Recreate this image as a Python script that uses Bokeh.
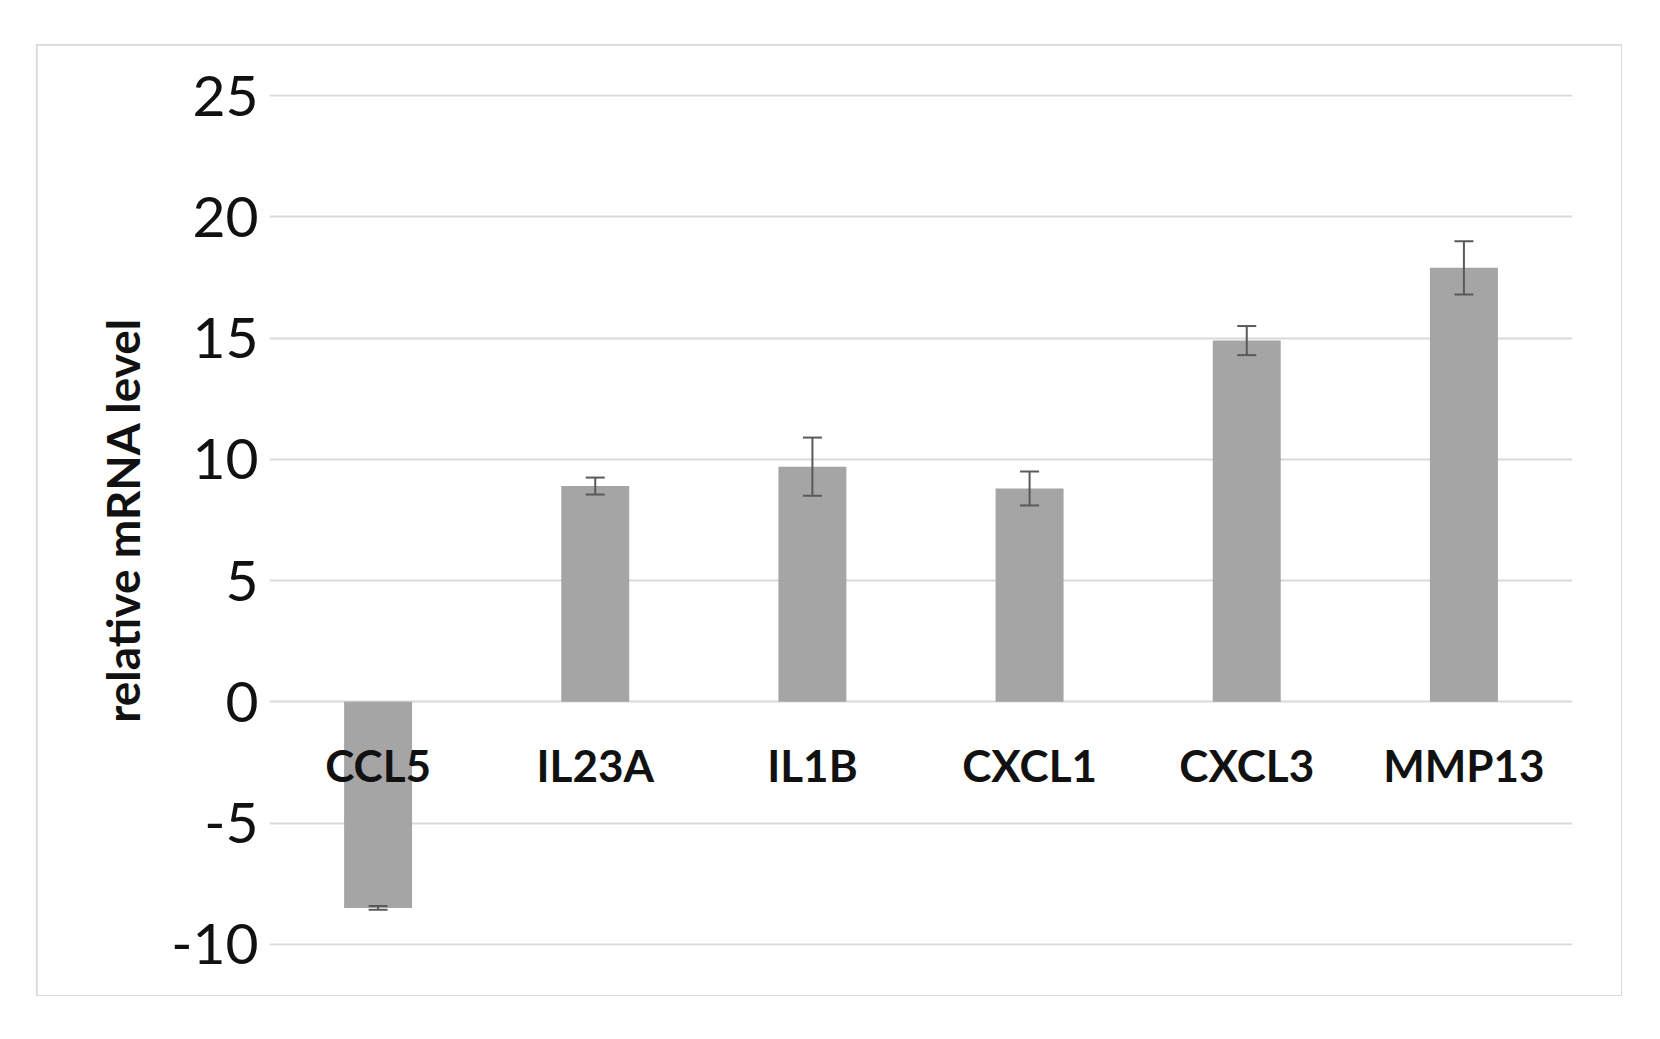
from bokeh.plotting import figure
from bokeh.models import ColumnDataSource, FactorRange, Range1d, Whisker, TeeHead, FixedTicker
from bokeh.core.properties import value
from bokeh.embed import file_html
from bokeh.resources import INLINE

# ---- data ----
genes = ["CCL5", "IL23A", "IL1B", "CXCL1", "CXCL3", "MMP13"]
levels = [-8.5, 8.9, 9.7, 8.8, 14.9, 17.9]
errors = [0.08, 0.35, 1.2, 0.7, 0.6, 1.1]
y_ticks = [-10, -5, 0, 5, 10, 15, 20, 25]
y_tick_labels = ["-10", "-5", "0", "5", "10", "15", "20", "25"]
y_title = "relative mRNA level"

src = ColumnDataSource(dict(
    gene=genes,
    level=levels,
    upper=[v + e for v, e in zip(levels, errors)],
    lower=[v - e for v, e in zip(levels, errors)],
    base0=[0] * len(genes),
))

p = figure(
    x_range=FactorRange(*genes, range_padding=0),
    y_range=Range1d(min(y_ticks) - 0.05, max(y_ticks) + 0.05),
    width=1584, height=950,
    output_backend="svg", toolbar_location=None,
    min_border_left=232, min_border_right=49,
    min_border_top=49, min_border_bottom=50,
)
p.margin = (45, 0, 0, 37)
p.styles = {"outline": "2px solid #D9D9D9", "outline-offset": "-1px"}
p.outline_line_color = None
p.background_fill_color = "white"
p.border_fill_color = "white"

p.vbar(x="gene", top="level", bottom=0, width=0.313, source=src,
       fill_color="#A5A5A5", line_color=None)

w = Whisker(source=src, base="gene", upper="upper", lower="lower",
            line_color="#595959", line_width=2,
            upper_head=TeeHead(size=19, line_color="#595959", line_width=2),
            lower_head=TeeHead(size=19, line_color="#595959", line_width=2))
w.level = "overlay"
p.add_layout(w)

p.text(x="gene", y="base0", text="gene", source=src, y_offset=63,
       text_align="center", text_baseline="middle",
       text_font=value("Lato"), text_font_style="bold",
       text_font_size="44px", text_color="#111111")

p.xaxis.visible = False
p.xgrid.grid_line_color = None
p.ygrid.grid_line_color = "#D9D9D9"
p.ygrid.grid_line_width = 2
p.yaxis.ticker = FixedTicker(ticks=y_ticks)
p.yaxis.major_label_overrides = {t: s for t, s in zip(y_ticks, y_tick_labels)}
p.yaxis.axis_line_color = None
p.yaxis.major_tick_line_color = None
p.yaxis.minor_tick_line_color = None
p.yaxis.major_label_text_font = "Lato"
p.yaxis.major_label_text_font_size = "57px"
p.yaxis.major_label_text_color = "#111111"
p.yaxis.major_label_standoff = 5
p.yaxis.axis_label = y_title
p.yaxis.axis_label_text_font = "Lato"
p.yaxis.axis_label_text_font_style = "bold"
p.yaxis.axis_label_text_font_size = "46px"
p.yaxis.axis_label_text_color = "#111111"
p.yaxis.axis_label_standoff = 18

open("out.html", "w").write(file_html(p, INLINE))
